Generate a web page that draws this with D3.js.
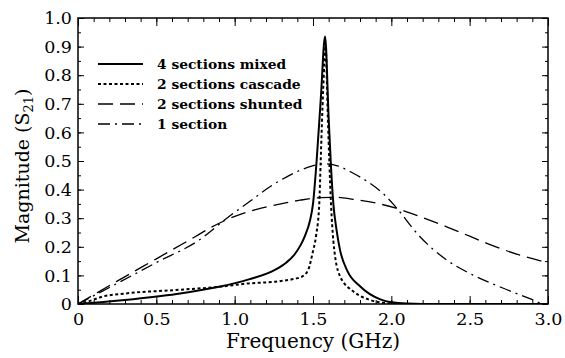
<!DOCTYPE html>
<html>
<head>
<meta charset="utf-8">
<script src="https://cdn.jsdelivr.net/npm/d3@7"></script>
</head>
<body style="margin:0">
<svg id="chart" width="565" height="358"></svg>
<script>
// 4 sections mixed (solid)
const mixedF = [0, 0.1, 0.3, 0.63, 0.9, 1.09, 1.26, 1.33, 1.38, 1.42, 1.45, 1.48, 1.50, 1.523, 1.55, 1.577, 1.60, 1.613, 1.63, 1.65, 1.672, 1.72, 1.8, 1.93, 2.0, 2.1, 2.3, 3.0];
const mixedV = [0, 0.004, 0.014, 0.035, 0.06, 0.086, 0.12, 0.145, 0.172, 0.205, 0.24, 0.29, 0.35, 0.5, 0.72, 0.935, 0.65, 0.5, 0.35, 0.26, 0.19, 0.115, 0.062, 0.016, 0.006, 0.002, 0, 0];

// 2 sections cascade (dotted)
const cascadeF = [0, 0.06, 0.157, 0.306, 0.626, 0.9, 1.09, 1.26, 1.38, 1.43, 1.47, 1.498, 1.52, 1.54, 1.549, 1.565, 1.58, 1.595, 1.604, 1.615, 1.63, 1.67, 1.76, 1.86, 1.95, 2.1, 3.0];
const cascadeV = [0, 0.008, 0.026, 0.037, 0.049, 0.06, 0.072, 0.078, 0.088, 0.096, 0.12, 0.18, 0.24, 0.35, 0.5, 0.75, 0.9, 0.65, 0.5, 0.35, 0.22, 0.10, 0.043, 0.015, 0.004, 0, 0];

// 2 sections shunted (dashed)
const shuntedF = [0, 0.25, 0.5, 0.75, 0.85, 0.95, 1.05, 1.14, 1.25, 1.417, 1.55, 1.65, 1.757, 1.9, 2.03, 2.2, 2.353, 2.5, 2.61, 2.82, 3.0];
const shuntedV = [0, 0.08, 0.158, 0.236, 0.268, 0.295, 0.316, 0.331, 0.345, 0.363, 0.372, 0.373, 0.366, 0.353, 0.335, 0.302, 0.27, 0.237, 0.212, 0.171, 0.144];

// 1 section (dash-dot)
const singleF = [0, 0.25, 0.5, 0.774, 0.95, 1.1, 1.225, 1.35, 1.48, 1.57, 1.65, 1.757, 1.864, 1.95, 2.03, 2.18, 2.353, 2.5, 2.715, 2.906, 2.96, 3.0];
const singleV = [0, 0.072, 0.145, 0.224, 0.30, 0.36, 0.41, 0.45, 0.48, 0.49, 0.484, 0.457, 0.422, 0.385, 0.338, 0.237, 0.154, 0.107, 0.055, 0.014, 0.002, 0];

const seriesNames = ["4 sections mixed", "2 sections cascade", "2 sections shunted", "1 section"];
const xTickLabels = ["0", "0.5", "1.0", "1.5", "2.0", "2.5", "3.0"];
const yTickLabels = ["0", "0.1", "0.2", "0.3", "0.4", "0.5", "0.6", "0.7", "0.8", "0.9", "1.0"];

const font = "DejaVu Serif";

const W = 565, H = 358;
const margin = { top: 18, right: 17, bottom: 54, left: 78 };
const width = W - margin.left - margin.right;
const height = H - margin.top - margin.bottom;

const svg = d3.select("#chart")
    .attr("font-family", font);
svg.append("rect").attr("width", W).attr("height", H).attr("fill", "#fff");
const g = svg.append("g")
    .attr("transform", `translate(${margin.left},${margin.top})`);

const x = d3.scaleLinear().domain([0, 3]).range([0, width]);
const y = d3.scaleLinear().domain([0, 1]).range([height, 0]);

// ticks (inward, all four sides)
const xMajor = d3.range(0, 3.001, 0.5);
const xMinor = d3.range(0, 3.001, 0.1);
const yMajor = d3.range(0, 1.001, 0.1);
const yMinor = d3.range(0, 1.001, 0.05);

function tickAxis(axis, scale, vals, len) {
    return axis(scale).tickValues(vals).tickSize(len).tickFormat("");
}
g.append("g").attr("transform", `translate(0,${height})`).call(tickAxis(d3.axisTop, x, xMinor, 4));
g.append("g").attr("transform", `translate(0,${height})`).call(tickAxis(d3.axisTop, x, xMajor, 8));
g.append("g").call(tickAxis(d3.axisBottom, x, xMinor, 4));
g.append("g").call(tickAxis(d3.axisBottom, x, xMajor, 8));
g.append("g").call(tickAxis(d3.axisRight, y, yMinor, 3));
g.append("g").call(tickAxis(d3.axisRight, y, yMajor, 6));
g.append("g").attr("transform", `translate(${width},0)`).call(tickAxis(d3.axisLeft, y, yMinor, 3));
g.append("g").attr("transform", `translate(${width},0)`).call(tickAxis(d3.axisLeft, y, yMajor, 6));
g.selectAll(".domain").remove();
g.selectAll(".tick line").attr("stroke", "#000").attr("stroke-width", 1);

// tick labels
g.append("g").attr("transform", `translate(0,${height})`)
    .call(d3.axisBottom(x).tickValues(xMajor).tickSize(0).tickPadding(9)
        .tickFormat((d, i) => xTickLabels[i]))
    .attr("font-family", font).attr("font-size", 17.5)
    .call(a => a.select(".domain").remove())
    .selectAll("text").attr("fill", "#000")
    .attr("font-family", font).style("font-family", font);

g.append("g")
    .call(d3.axisLeft(y).tickValues(yMajor).tickSize(0).tickPadding(6)
        .tickFormat((d, i) => yTickLabels[i]))
    .attr("font-family", font).attr("font-size", 17.5)
    .call(a => a.select(".domain").remove())
    .selectAll("text").attr("fill", "#000")
    .attr("font-family", font).style("font-family", font);

// frame
g.append("rect")
    .attr("width", width).attr("height", height)
    .attr("fill", "none").attr("stroke", "#000").attr("stroke-width", 1.5);

// curves
const styles = [
    { dash: null, w: 2 },
    { dash: "3,2.5", w: 2 },
    { dash: "15,7", w: 1.3 },
    { dash: "12,5,2,5", w: 1.3 }
];
const series = [
    [mixedF, mixedV],
    [cascadeF, cascadeV],
    [shuntedF, shuntedV],
    [singleF, singleV]
];
const line = d3.line()
    .x(d => x(d[0]))
    .y(d => y(d[1]))
    .curve(d3.curveMonotoneX);

g.append("defs").append("clipPath").attr("id", "clip")
    .append("rect").attr("width", width).attr("height", height);

series.forEach(([fs, vs], i) => {
    g.append("path")
        .datum(fs.map((f, j) => [f, vs[j]]))
        .attr("clip-path", "url(#clip)")
        .attr("fill", "none")
        .attr("stroke", "#000")
        .attr("stroke-width", styles[i].w)
        .attr("stroke-dasharray", styles[i].dash)
        .attr("d", line);
});

// legend
const legend = svg.append("g").attr("transform", "translate(98,64)");
seriesNames.forEach((name, i) => {
    const row = legend.append("g").attr("transform", `translate(0,${i * 20})`);
    row.append("line")
        .attr("x1", 0).attr("x2", 45)
        .attr("stroke", "#000")
        .attr("stroke-width", styles[i].w)
        .attr("stroke-dasharray", styles[i].dash);
    row.append("text")
        .attr("x", 59).attr("y", 5)
        .attr("font-family", font)
        .style("font-family", font)
        .attr("font-weight", "bold")
        .attr("font-size", 13.8)
        .text(name);
});

// axis labels
svg.append("text")
    .attr("x", margin.left + width / 2)
    .attr("y", 348)
    .attr("text-anchor", "middle")
    .attr("font-family", font)
    .style("font-family", font)
    .attr("font-size", 20)
    .text("Frequency (GHz)");

const yl = svg.append("text")
    .attr("transform", `translate(29,${166}) rotate(-90)`)
    .attr("text-anchor", "middle")
    .attr("font-family", font)
    .style("font-family", font)
    .attr("font-size", 19);
yl.append("tspan").text("Magnitude (S");
yl.append("tspan").attr("dy", 4).attr("font-size", 13).text("21");
yl.append("tspan").attr("dy", -4).text(")");
</script>
</body>
</html>
